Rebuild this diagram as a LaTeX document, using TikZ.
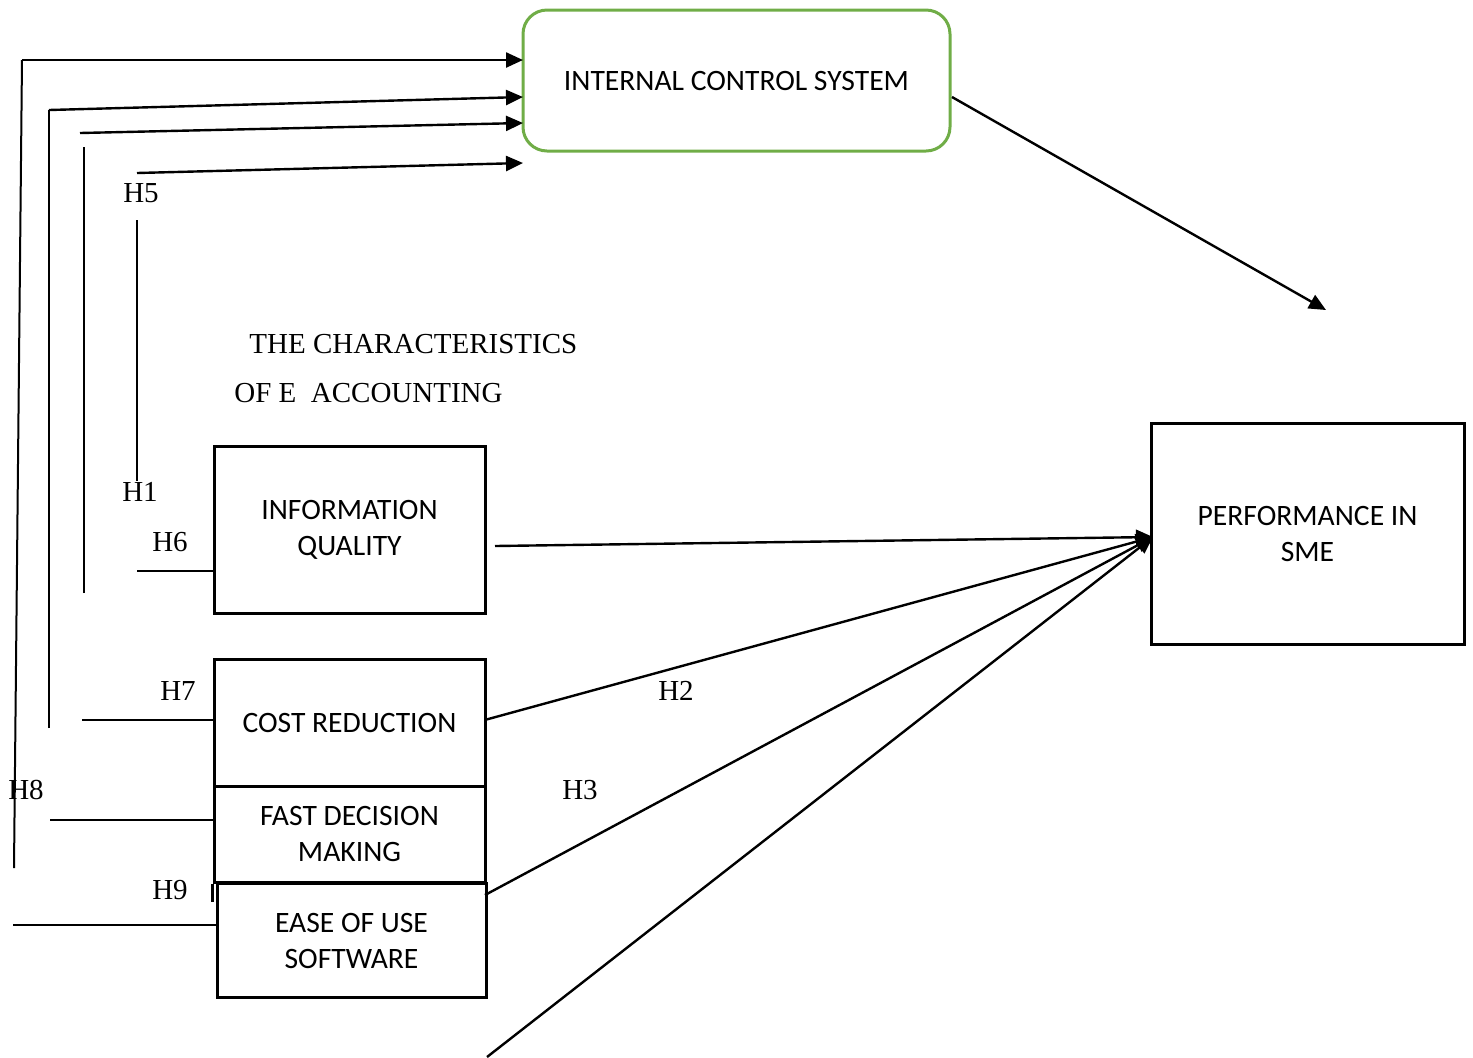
\documentclass[tikz,border=0pt]{standalone}
\usepackage{fontspec}
\setmainfont{Liberation Serif}
\newfontfamily\boxfont{Carlito}
\usetikzlibrary{arrows.meta}
\definecolor{icsgreen}{HTML}{70AD47}
\tikzset{
  box/.style={draw=black, line width=1.5pt, align=center, inner sep=0pt, font=\boxfont\fontsize{14.8pt}{18pt}\selectfont},
  conn/.style={line width=1.2pt, -{Triangle[length=8.5pt,width=7.5pt]}},
  plain/.style={line width=1pt},
  stub/.style={line width=0.7pt},
  hlab/.style={font=\fontsize{14.5pt}{17pt}\selectfont, inner sep=0pt},
}
\begin{document}
\begin{tikzpicture}[x=0.5pt,y=-0.5pt]
\useasboundingbox (0,0) rectangle (1473,1057);
% boxes
\node[box, draw=icsgreen, rounded corners=12pt, minimum width=213.5pt, minimum height=70.5pt] (ics) at (736.5,80.5) {INTERNAL CONTROL SYSTEM};
\node[box, minimum width=156.5pt, minimum height=110.5pt] (perf) at (1307.5,533.5) {PERFORMANCE IN\\SME};
\node[box, minimum width=135.5pt, minimum height=83.5pt] (info) at (349.5,529.5) {INFORMATION\\QUALITY};
\node[box, minimum width=135.5pt, minimum height=63.5pt] (cost) at (349.5,722.5) {COST REDUCTION};
\node[box, minimum width=135.5pt, minimum height=48pt] (fast) at (349.5,834) {FAST DECISION\\MAKING};
\node[box, minimum width=134.5pt, minimum height=57pt] (ease) at (351.5,940.5) {EASE OF USE\\SOFTWARE};
\draw[line width=1.5pt] (fast.south west) -- ++(0,18);
% title
\node[hlab, anchor=base west] (t1) at (249,353) {THE CHARACTERISTICS};
\node[hlab, anchor=base west] (t2) at (234,402) {OF E\ \ ACCOUNTING};
% labels
\node[hlab] (h5) at (141,193) {H5};
\node[hlab] (h1) at (140,492) {H1};
\node[hlab] (h6) at (170,542) {H6};
\node[hlab] (h7) at (178,691) {H7};
\node[hlab] (h8) at (26,790) {H8};
\node[hlab] (h9) at (170,890) {H9};
\node[hlab] (h2) at (676,691) {H2};
\node[hlab] (h3) at (580,790) {H3};
% coordinates for the left route
\coordinate (a1s) at (14,868);
\coordinate (a1c) at (22,60);
\coordinate (a1e) at (523,60);
\coordinate (a2s) at (49,728);
\coordinate (a2c) at (49,110);
\coordinate (a2e) at (523,97);
\coordinate (a3s) at (84,593);
\coordinate (a3t) at (84,147);
\coordinate (a3c) at (80,133);
\coordinate (a3e) at (523,123);
\coordinate (a4c) at (137,173);
\coordinate (a4e) at (523,163);
\coordinate (v5t) at (137,220);
\coordinate (v5b) at (137,481);
\coordinate (s6) at (137,571);
\coordinate (s7) at (82,720);
\coordinate (s8) at (50,820);
\coordinate (s9) at (13,925);
\coordinate (icsout) at (952,97);
\coordinate (icstip) at (1326,310);
\coordinate (pin) at (1153,537);
\coordinate (bot) at (487,1057);
% arrows into ICS
\draw[plain] (a1s) -- (a1c);
\draw[conn] (a1c) -- (a1e);
\draw[plain] (a2s) -- (a2c);
\draw[conn] (a2c) -- (a2e);
\draw[plain] (a3s) -- (a3t);
\draw[conn] (a3c) -- (a3e);
\draw[conn] (a4c) -- (a4e);
\draw[stub] (v5t) -- (v5b);
% stubs to boxes
\draw[stub] (s6) -- (s6 -| info.west);
\draw[stub] (s7) -- (s7 -| ease.west);
\draw[stub] (s8) -- (s8 -| fast.west);
\draw[stub] (s9) -- (s9 -| ease.west);
% ICS to performance direction
\draw[conn] (icsout) -- (icstip);
% into performance
\draw[conn] (495,546) -- (pin);
\draw[conn] (cost.east) ++(0,-3) -- (pin);
\draw[conn] (485,895) -- (pin);
\draw[conn] (bot) -- (pin);
\end{tikzpicture}
\end{document}
